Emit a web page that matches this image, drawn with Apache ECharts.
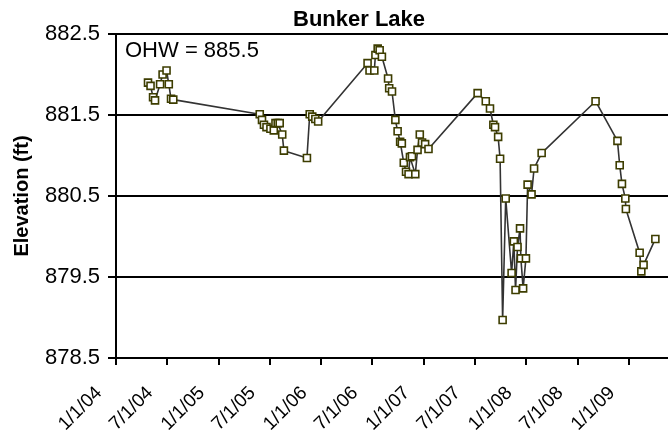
<!DOCTYPE html>
<html>
<head>
<meta charset="utf-8">
<script src="https://cdn.jsdelivr.net/npm/echarts@6/dist/echarts.min.js"></script>
<style>html,body{margin:0;padding:0;background:#fff;}#c{width:668px;height:439px;}</style>
</head>
<body>
<div id="c"></div>
<script>
// Observation dates and lake elevations (ft)
const obsDates = [
 '2004-04-24','2004-05-03','2004-05-12','2004-05-19','2004-06-06','2004-06-15','2004-06-29','2004-07-07','2004-07-15','2004-07-23',
 '2005-05-27','2005-06-04','2005-06-11','2005-06-20','2005-07-04','2005-07-16','2005-07-22','2005-07-30','2005-08-06','2005-08-15','2005-08-21',
 '2005-11-11','2005-11-21','2005-11-30','2005-12-11','2005-12-21',
 '2006-06-15','2006-06-22','2006-07-09','2006-07-13','2006-07-21','2006-07-28','2006-08-05','2006-08-27','2006-08-31','2006-09-10',
 '2006-09-22','2006-09-30','2006-10-09','2006-10-15','2006-10-22','2006-10-30','2006-11-08','2006-11-13','2006-11-20','2006-12-02',
 '2006-12-10','2006-12-18','2006-12-26','2007-01-06','2007-01-18',
 '2007-07-12','2007-08-10','2007-08-25','2007-09-06','2007-09-12','2007-09-23','2007-09-30','2007-10-09','2007-10-20','2007-11-10',
 '2007-11-18','2007-11-24','2007-12-01','2007-12-10','2007-12-13','2007-12-21','2007-12-31','2008-01-06','2008-01-20','2008-01-29',
 '2008-02-25','2008-09-04','2008-11-21','2008-11-29','2008-12-07','2008-12-19','2008-12-21','2009-02-08','2009-02-14','2009-02-22',
 '2009-04-05'
];
const elevations = [
 881.90,881.86,881.72,881.68,881.88,882.00,882.05,881.88,881.70,881.69,
 881.51,881.44,881.38,881.35,881.33,881.31,881.40,881.40,881.40,881.26,881.06,
 880.97,881.51,881.48,881.45,881.42,
 882.14,882.05,882.05,882.24,882.32,882.30,882.22,881.95,881.83,881.79,
 881.44,881.30,881.17,881.15,880.91,880.80,880.77,880.98,880.99,880.77,
 881.07,881.26,881.16,881.14,881.08,
 881.77,881.67,881.58,881.38,881.35,881.23,880.96,878.97,880.47,879.55,
 879.94,879.34,879.87,880.10,879.73,879.36,879.73,880.64,880.52,880.84,
 881.03,881.67,881.18,880.88,880.65,880.47,880.34,879.80,879.57,879.65,
 879.97
];
const xTickDates = ['2004-01-01','2004-07-01','2005-01-01','2005-07-01','2006-01-01','2006-07-01','2007-01-01','2007-07-01','2008-01-01','2008-07-01','2009-01-01'];
const xTickLabels = ['1/1/04','7/1/04','1/1/05','7/1/05','1/1/06','7/1/06','1/1/07','7/1/07','1/1/08','7/1/08','1/1/09'];
const xRange = ['2004-01-01','2009-05-20'];
const yTicks = [878.5, 879.5, 880.5, 881.5, 882.5];
const chartTitle = 'Bunker Lake';
const yName = 'Elevation (ft)';
const noteText = 'OHW = 885.5';

function ts(s){ const p = s.split('-').map(Number); return new Date(p[0], p[1]-1, p[2]).getTime(); }
const tickTs = xTickDates.map(ts);
const labelMap = {}; tickTs.forEach((t,i)=>{ labelMap[t] = xTickLabels[i]; });
const FONT = 'Liberation Sans, Arial, sans-serif';

const chart = echarts.init(document.getElementById('c'));
chart.setOption({
  animation: false,
  backgroundColor: '#fff',
  title: { text: chartTitle, left: 288, top: 4,
    textStyle: { fontFamily: FONT, fontWeight: 'bold', fontSize: 22, color: '#000' } },
  grid: { left: 116, right: 0, top: 34, bottom: 81, containLabel: false },
  graphic: [{ type: 'text', left: 125, top: 40,
    style: { text: noteText, font: '22px "Liberation Sans", Arial', fill: '#000' } }],
  xAxis: {
    type: 'value', min: ts(xRange[0]), max: ts(xRange[1]),
    axisLine: { show: true, onZero: false, lineStyle: { color: '#000', width: 2 } },
    axisTick: { show: true, customValues: tickTs, length: 7, lineStyle: { color: '#000', width: 2 } },
    axisLabel: { customValues: tickTs, rotate: 45, margin: 15, align: 'right', verticalAlign: 'middle',
      padding: [0, 24, 0, 0],
      fontFamily: FONT, fontSize: 19, color: '#000',
      formatter: v => labelMap[v] || '' },
    splitLine: { show: false }
  },
  yAxis: {
    type: 'value', min: yTicks[0], max: yTicks[yTicks.length-1], interval: 1,
    name: yName, nameLocation: 'middle', nameGap: 84, nameRotate: 90,
    nameTextStyle: { fontFamily: FONT, fontWeight: 'bold', fontSize: 20, color: '#000' },
    axisLine: { show: true, lineStyle: { color: '#000', width: 2 } },
    axisTick: { show: true, inside: false, length: 8, lineStyle: { color: '#000', width: 2 } },
    axisLabel: { margin: 16, fontFamily: FONT, fontSize: 22, color: '#000',
      formatter: v => v.toFixed(1) },
    splitLine: { show: true, lineStyle: { color: '#000', width: 2 } }
  },
  series: [{
    type: 'line',
    data: obsDates.map((d,i)=>[ts(d), elevations[i]]),
    symbol: 'rect', symbolSize: 7, showAllSymbol: true,
    lineStyle: { color: '#333333', width: 1.6 },
    itemStyle: { color: '#fff', borderColor: '#3d3d00', borderWidth: 1.6 }
  }]
});
</script>
</body>
</html>
